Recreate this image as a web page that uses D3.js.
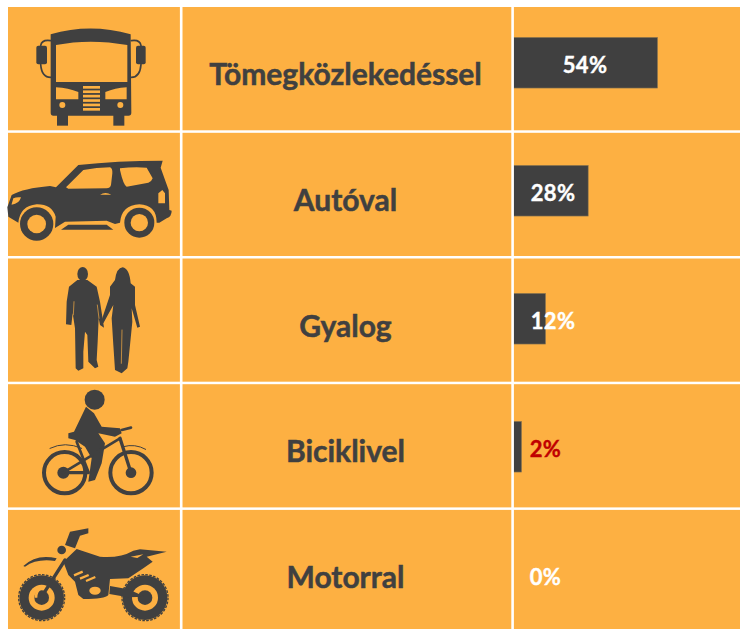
<!DOCTYPE html>
<html>
<head>
<meta charset="utf-8">
<script src="https://cdn.jsdelivr.net/npm/d3@7"></script>
<style>
  html, body { margin: 0; padding: 0; background: #fff; }
  svg { display: block; }
  text { font-family: Lato, "Open Sans", sans-serif; font-weight: 700; }
</style>
</head>
<body>
<div id="chart"></div>
<script>
const categories = ["Tömegközlekedéssel", "Autóval", "Gyalog", "Biciklivel", "Motorral"];
const barValues = [54, 28, 12, 3, 0];
const percentLabels = ["54%", "28%", "12%", "2%", "0%"];
const percentColors = ["#ffffff", "#ffffff", "#ffffff", "#c00000", "#ffffff"];

const width = 740, height = 629;
const orange = "#fdb042", dark = "#404040";

const svg = d3.select("#chart").append("svg")
  .attr("width", width).attr("height", height);

// Background panel
svg.append("rect").attr("x", 8).attr("y", 7)
  .attr("width", width - 8).attr("height", height - 7).attr("fill", orange);

const rowScale = d3.scaleBand().domain(categories).range([5.8, 634.3]);
const barRow = d3.scaleBand().domain(categories).range([-1.25, 638.75]);
const x = d3.scaleLinear().domain([0, 54]).range([513.5, 657.5]);

// Bars
svg.selectAll(".bar").data(categories).enter().append("rect")
  .attr("class", "bar")
  .attr("x", x(0))
  .attr("y", d => barRow(d) + barRow.bandwidth() / 2 - 25.3)
  .attr("width", (d, i) => x(barValues[i]) - x(0))
  .attr("height", (d, i) => barValues[i] > 0 ? 50.6 : 0)
  .attr("fill", dark)
  .attr("stroke", "#8a7550")
  .attr("stroke-width", 0.6);

// Separators
rowScale.domain().slice(1).forEach(d => {
  svg.append("rect").attr("x", 8).attr("y", rowScale(d) - 1.2)
    .attr("width", width - 8).attr("height", 2.5).attr("fill", "#fff");
});
[181.2, 512.6].forEach(sx => {
  svg.append("rect").attr("x", sx - 1.3).attr("y", 7)
    .attr("width", 2.6).attr("height", height - 7).attr("fill", "#fff");
});

// Category labels
svg.selectAll(".cat").data(categories).enter().append("text")
  .attr("class", "cat")
  .attr("x", 345.5)
  .attr("y", d => rowScale(d) + rowScale.bandwidth() / 2 + 16.5)
  .attr("text-anchor", "middle")
  .attr("fill", dark)
  .attr("stroke", dark)
  .attr("stroke-width", 0.5)
  .style("font-size", "30px")
  .text(d => d);

// Percent labels, centres
const labelCentres = [585, 553, 553, 545.5, 545.5];
svg.selectAll(".pct").data(percentLabels).enter().append("text")
  .attr("class", "pct")
  .attr("x", (d, i) => labelCentres[i])
  .attr("y", (d, i) => barRow(categories[i]) + barRow.bandwidth() / 2 + 10)
  .attr("text-anchor", "middle")
  .attr("fill", (d, i) => percentColors[i])
  .attr("stroke", (d, i) => percentColors[i])
  .attr("stroke-width", 0.4)
  .style("font-size", "22px")
  .style("letter-spacing", "0.4px")
  .text(d => d);

// Icons are drawn in 3x crop coordinates
const icon = (dy) => svg.append("g")
  .attr("transform", `translate(0, ${dy}) scale(${1 / 3})`)
  .attr("fill", dark);
const stroked = (g, d, w) => g.append("path").attr("d", d)
  .attr("fill", "none").attr("stroke", dark).attr("stroke-width", w).attr("stroke-linecap", "round");
const cut = (g, d, w) => g.append("path").attr("d", d)
  .attr("fill", "none").attr("stroke", orange).attr("stroke-width", w).attr("stroke-linecap", "round");

// Bus
const bus = icon(0);
bus.append("path").attr("fill-rule", "evenodd").attr("d",
  "M152,103 Q270,68 392,103 L394,338 Q394,347 385,347 L160,347 Q152,347 152,338 Z " +
  "M168,135 Q270,115 382,135 L382,246 L168,246 Z " +
  "M168,262 Q205,264 235,276 L235,298 L168,298 Z " +
  "M380,262 Q345,264 316,276 L316,298 L380,298 Z");
bus.append("rect").attr("x", 171).attr("y", 345).attr("width", 33).attr("height", 32);
bus.append("rect").attr("x", 340).attr("y", 345).attr("width", 33).attr("height", 32);
bus.append("rect").attr("x", 109).attr("y", 137).attr("width", 32).attr("height", 56).attr("rx", 6);
bus.append("rect").attr("x", 408).attr("y", 137).attr("width", 29).attr("height", 56).attr("rx", 6);
stroked(bus, "M152,122 Q125,118 122,137", 5);
stroked(bus, "M122,193 Q125,232 152,232", 5);
stroked(bus, "M394,122 Q420,118 423,137", 5);
stroked(bus, "M423,193 Q420,232 394,232", 5);
d3.range(0, 6).forEach(k => {
  bus.append("rect").attr("x", 249).attr("y", 258 + k * 13.2)
    .attr("width", 51).attr("height", 8).attr("fill", orange);
});
bus.append("circle").attr("cx", 187).attr("cy", 315).attr("r", 9).attr("fill", orange);
bus.append("circle").attr("cx", 361).attr("cy", 315).attr("r", 9).attr("fill", orange);

// Car
const car = icon(0);
car.append("path").attr("fill-rule", "evenodd").attr("d",
  "M22,622 L35,585 Q70,565 150,558 L168,562 L235,495 Q350,482 488,482 L482,503 L497,545 L506,570 " +
  "L508,630 L515,632 Q515,650 500,655 L478,668 L470,668 Q470,615 418,613 Q365,615 360,668 " +
  "L345,672 L320,662 L195,665 L165,684 L167,650 Q155,612 110,613 Q60,618 55,668 L25,650 Z " +
  "M198,562 L250,510 Q290,503 330,502 Q338,505 337,520 L333,555 Q330,565 320,565 L205,566 Z " +
  "M360,505 Q400,500 440,503 L458,535 Q455,545 445,548 L380,560 Q370,555 360,510 Z " +
  "M35,612 L40,595 Q50,590 63,592 Q58,612 35,614 Z " +
  "M475,610 L475,580 L487,570 L495,580 L495,610 Z " +
  "M300,584 Q316,574 334,584 Z");
car.append("path").attr("d", "M183,689 L205,674 L320,674 L340,689 Z");
[[110, 672, 50, 28], [418, 668, 45, 26]].forEach(w => {
  car.append("circle").attr("cx", w[0]).attr("cy", w[1]).attr("r", w[2]);
  car.append("circle").attr("cx", w[0]).attr("cy", w[1]).attr("r", w[3]).attr("fill", orange);
});

// Couple
const people = icon(255);
people.append("ellipse").attr("cx", 248).attr("cy", 57).attr("rx", 16).attr("ry", 21);
people.append("path").attr("d",
  "M232,75 L262,75 L290,95 L300,140 L310,205 L312,218 L300,210 L296,190 L293,260 L290,315 L295,335 " +
  "L285,340 L265,320 L262,240 L255,230 L250,290 L250,340 L235,347 L227,340 L225,220 L218,175 L214,210 " +
  "L198,208 L200,140 L207,95 Z");
people.append("path").attr("d",
  "M345,75 Q350,38 368,37 Q388,40 392,85 L405,95 L405,150 L420,215 L412,218 L395,160 L397,200 L385,320 " +
  "L382,340 L365,355 L345,345 L340,270 L335,190 L340,150 L310,205 L305,195 L330,120 L330,95 Z");
cut(people, "M366,225 L364,325", 2);
cut(people, "M222,140 L220,180", 2);
cut(people, "M292,150 L297,190", 2);

// Cyclist
const bike = icon(255);
bike.append("circle").attr("cx", 284).attr("cy", 434).attr("r", 30);
bike.append("path").attr("d",
  "M258,455 L282,475 L305,515 L360,520 L365,535 L345,545 L295,535 L315,565 L305,625 L285,675 L265,680 " +
  "L275,610 L255,575 L225,555 L205,550 L205,535 L222,530 Z");
[[194, 62], [393, 62]].forEach(w => {
  bike.append("circle").attr("cx", w[0]).attr("cy", 653).attr("r", w[1])
    .attr("fill", "none").attr("stroke", dark).attr("stroke-width", 12);
});
bike.append("circle").attr("cx", 190).attr("cy", 653).attr("r", 18);
bike.append("circle").attr("cx", 393).attr("cy", 653).attr("r", 16);
stroked(bike, "M190,653 L265,653", 10);
stroked(bike, "M190,653 L360,550", 8);
stroked(bike, "M360,550 L393,653", 10);
stroked(bike, "M230,560 L265,650", 8);
stroked(bike, "M365,525 L393,518", 8);
stroked(bike, "M150,580 Q195,558 245,580", 3);
stroked(bike, "M370,575 Q405,565 437,583", 3);

// Motorbike
const moto = icon(500);
[[125, 293], [435, 293]].forEach(w => {
  moto.append("circle").attr("cx", w[0]).attr("cy", w[1]).attr("r", 67);
  moto.append("circle").attr("cx", w[0]).attr("cy", w[1]).attr("r", 69)
    .attr("fill", "none").attr("stroke", dark).attr("stroke-width", 4).attr("stroke-dasharray", "8 4");
  moto.append("circle").attr("cx", w[0]).attr("cy", w[1]).attr("r", 39).attr("fill", orange);
  moto.append("circle").attr("cx", w[0]).attr("cy", w[1]).attr("r", 22);
});
moto.append("path").attr("d",
  "M230,147 L300,170 Q360,175 400,152 L420,148 L500,155 L440,170 L458,185 L430,205 L385,235 L330,237 " +
  "L325,285 Q315,297 250,297 L235,285 L225,245 L205,225 L190,185 Z");
moto.append("path").attr("d", "M210,95 L265,85 L265,100 L240,107 L225,145 L195,135 Z");
moto.append("circle").attr("cx", 185).attr("cy", 150).attr("r", 13);
moto.append("path").attr("d", "M70,198 Q110,160 170,175 L165,183 Q110,175 75,200 Z");
moto.append("path").attr("d", "M330,258 L385,268 L435,290 L385,292 L328,282 Z");
stroked(moto, "M195,180 L125,290", 10);
moto.append("path").attr("d", "M392,170 L430,163 L412,174 Z").attr("fill", orange);
["M222,226 L248,215", "M240,236 L266,225", "M258,243 L286,231"].forEach(s => {
  moto.append("path").attr("d", s).attr("stroke", orange).attr("stroke-width", 7).attr("fill", "none");
});
moto.append("ellipse").attr("cx", 285).attr("cy", 272).attr("rx", 17).attr("ry", 12).attr("fill", orange);
moto.append("path").attr("d", "M125,262 Q104,268 104,293 L112,293 Q112,275 125,268 Z").attr("fill", orange);
</script>
</body>
</html>
